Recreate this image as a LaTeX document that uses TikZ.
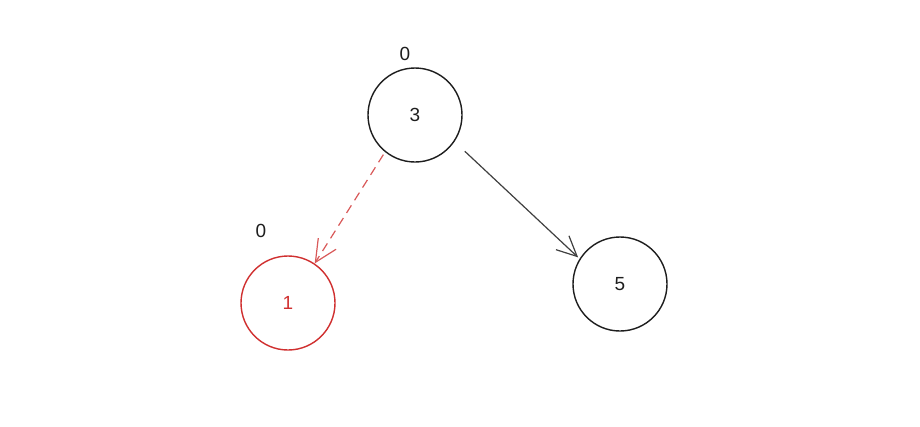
\documentclass[tikz,border=0pt]{standalone}
\usepackage{fontspec}
\setmainfont{Liberation Sans}
\usetikzlibrary{arrows.meta}
\definecolor{ink}{HTML}{1E1E1E}
\definecolor{redink}{HTML}{D03030}
\begin{document}
\begin{tikzpicture}[x=1pt,y=-1pt,
  vertex/.style={circle, draw=ink, line width=1.4pt, minimum size=94pt, inner sep=0pt, font=\fontsize{19}{22}\selectfont, text=ink},
  redvertex/.style={vertex, draw=redink, text=redink},
  tag/.style={font=\fontsize{19}{22}\selectfont, text=ink, inner sep=0pt},
  solidarrow/.style={draw=ink!85, line width=1.2pt, -{Straight Barb[length=20pt,width=19pt,line width=1.2pt]}},
  dasharrow/.style={draw=redink!80, line width=1.2pt, dash pattern=on 9pt off 6pt, -{Straight Barb[length=22pt,width=21pt,line width=1.2pt]}}]
  \path[fill=white] (0,0) rectangle (920,426);
  \useasboundingbox (0,0) rectangle (920,426);
  \node[vertex] (n3) at (415,115) {3};
  \node[redvertex] (n1) at (288,303) {1};
  \node[vertex] (n5) at (620,284) {5};
  \node[tag] (l3) at (405,54) {0};
  \node[tag] (l1) at (261,231) {0};
  \draw[solidarrow, shorten <=14pt, shorten >=2pt] (n3.-34) -- (n5.148);
  \draw[dasharrow, shorten <=3pt] (n3.231) -- (n1.56);
\end{tikzpicture}
\end{document}
